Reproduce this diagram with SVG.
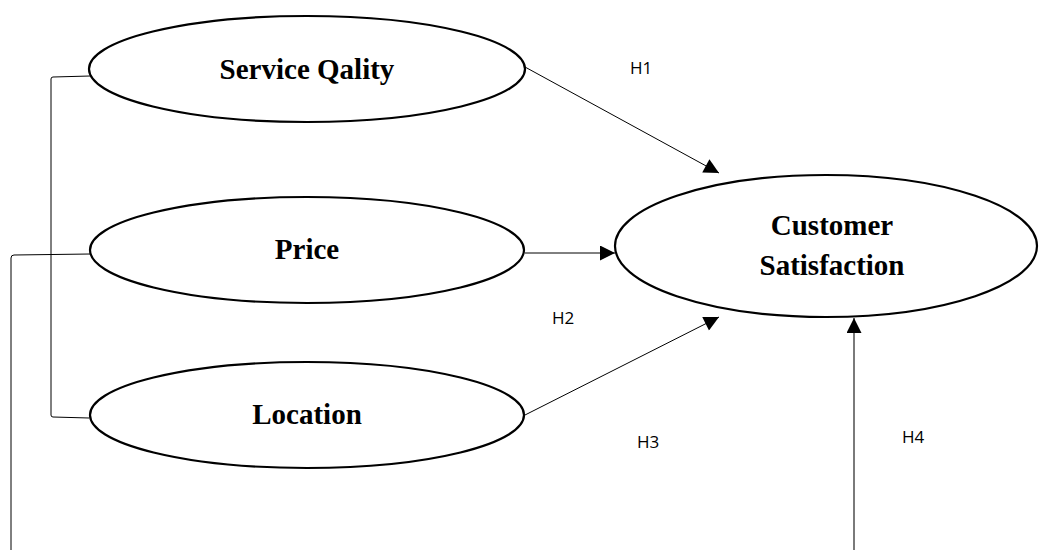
<svg xmlns="http://www.w3.org/2000/svg" width="1039" height="550" viewBox="0 0 1039 550">
<style>
.node ellipse{fill:#fff;stroke:#000;stroke-width:2.2}
.lbl{font-family:"Liberation Serif","Times New Roman",serif;font-weight:bold;font-size:29px;fill:#000;text-anchor:middle}
.h{font-family:"Open Sans","Noto Sans",sans-serif;font-size:17px;fill:#000}
.conn{fill:none;stroke:#000;stroke-width:1}
</style>
<defs>
<marker id="arr" viewBox="0 0 10 10" refX="10" refY="5" markerWidth="17" markerHeight="15" markerUnits="userSpaceOnUse" orient="auto">
<path d="M0,0 L10,5 L0,10 Z" fill="#000"/>
</marker>
</defs>
<rect width="1039" height="550" fill="#fff"/>
<g id="connectors">
<path class="conn" d="M90,76 L53,77 Q51,77 51,79 L51,415 Q51,417 53,417 L89,418"/>
<path class="conn" d="M90,254 L14,255 Q11,255 11,258 L11,550"/>
<line class="conn" x1="525" y1="67" x2="719" y2="173" marker-end="url(#arr)"/>
<line class="conn" x1="525" y1="253" x2="615" y2="253" marker-end="url(#arr)"/>
<line class="conn" x1="525" y1="415" x2="719" y2="317" marker-end="url(#arr)"/>
<line x1="854" y1="550" x2="854" y2="318" stroke="#595959" stroke-width="1.6" marker-end="url(#arr)"/>
</g>
<g id="service" class="node">
<ellipse cx="307" cy="69" rx="218" ry="53"/>
<text class="lbl" x="307" y="79">Service Qality</text>
</g>
<g id="price" class="node">
<ellipse cx="307" cy="250" rx="217" ry="53"/>
<text class="lbl" x="307" y="259">Price</text>
</g>
<g id="location" class="node">
<ellipse cx="307" cy="415" rx="217" ry="53"/>
<text class="lbl" x="307" y="424">Location</text>
</g>
<g id="customer" class="node">
<ellipse cx="826" cy="246" rx="211" ry="71"/>
<text class="lbl" x="832" y="235">Customer</text>
<text class="lbl" x="832" y="275">Satisfaction</text>
</g>
<g id="labels">
<text class="h" x="630" y="74">H1</text>
<text class="h" x="552" y="324">H2</text>
<text class="h" x="637" y="448">H3</text>
<text class="h" x="902" y="443">H4</text>
</g>
</svg>
